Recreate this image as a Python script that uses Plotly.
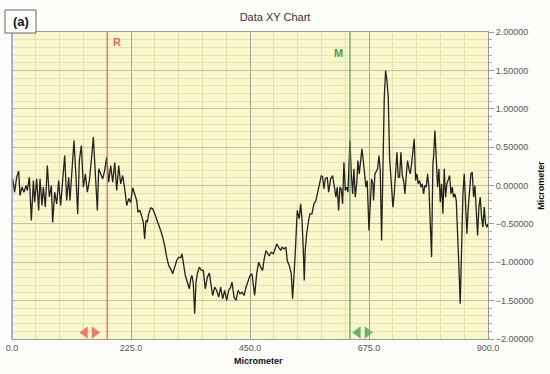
import plotly.graph_objects as go

# ---- data ----
x_um = [1.3, 5.0, 8.8, 12.6, 15.1, 18.9, 22.7, 26.5, 29.0, 32.8, 36.6, 40.4, 42.9, 46.7, 50.4, 53.0, 56.7, 59.2, 63.0, 66.8,
        70.6, 74.4, 76.9, 80.7, 84.5, 88.2, 92.0, 95.8, 99.6, 103.4, 107.2, 109.6, 113.4, 117.2, 121.0, 124.2, 127.3, 131.1, 134.9, 138.7,
        142.5, 146.3, 150.0, 153.8, 157.6, 161.4, 163.9, 167.7, 171.5, 175.2, 179.0, 182.8, 186.6, 190.4, 194.2, 198.0, 201.7, 205.5, 209.3, 213.1,
        216.9, 220.7, 224.4, 228.2, 231.9, 235.7, 238.2, 242.0, 245.7, 248.3, 250.8, 253.3, 255.8, 258.4, 262.2, 266.0, 269.8, 273.5, 277.3, 281.1,
        284.9, 288.7, 292.5, 296.3, 300.0, 303.8, 307.6, 311.4, 315.2, 319.0, 321.4, 323.9, 327.7, 331.5, 335.3, 337.8, 340.3, 342.8, 345.4, 347.9,
        350.4, 354.2, 358.0, 361.7, 365.5, 369.3, 373.1, 375.6, 379.4, 383.2, 387.0, 390.8, 394.5, 398.3, 402.1, 405.9, 409.7, 413.4, 416.0, 419.8,
        423.6, 427.4, 431.2, 435.0, 438.8, 442.5, 446.3, 449.9, 453.7, 456.2, 458.8, 462.6, 466.4, 470.1, 473.9, 476.4, 480.2, 484.0, 486.4, 490.2,
        494.0, 497.7, 500.4, 504.2, 508.0, 510.4, 514.2, 518.0, 520.4, 524.2, 528.0, 530.6, 533.1, 535.5, 539.3, 543.1, 545.8, 548.2, 550.6, 552.6,
        554.4, 557.1, 560.9, 563.3, 567.1, 570.9, 574.7, 578.5, 582.2, 584.8, 587.3, 589.8, 592.3, 596.1, 598.7, 602.5, 606.2, 610.0, 612.5, 615.0,
        617.6, 620.0, 622.5, 625.1, 627.6, 630.1, 632.7, 635.2, 639.0, 641.5, 644.1, 646.5, 649.0, 651.7, 654.1, 656.6, 659.2, 661.6, 664.1, 666.8,
        669.2, 671.6, 674.9, 677.4, 679.9, 682.4, 683.6, 686.2, 688.7, 691.3, 693.8, 696.3, 698.8, 701.3, 703.9, 706.4, 708.9, 711.4, 713.9, 716.4,
        720.2, 722.7, 725.3, 727.8, 730.3, 732.8, 735.3, 737.9, 740.4, 742.9, 745.4, 747.9, 750.5, 753.0, 755.5, 758.0, 760.5, 763.1, 765.6, 768.1,
        770.6, 773.2, 775.7, 778.2, 780.7, 783.2, 785.8, 788.3, 790.8, 793.3, 795.8, 797.1, 799.6, 802.1, 804.7, 807.2, 809.7, 812.2, 814.7, 817.3,
        819.8, 822.3, 824.8, 827.4, 829.9, 832.4, 834.9, 837.4, 840.0, 842.5, 845.0, 847.5, 850.1, 852.6, 855.1, 857.6, 860.1, 862.7, 865.2, 867.7,
        870.2, 872.8, 875.3, 877.8, 880.3, 882.8, 885.3, 887.9, 890.4, 892.9, 895.4, 897.9, 900.0]
height_um = [0.087, -0.087, 0.108, 0.187, -0.13, -0.02, -0.087, 0.0, -0.065, 0.108, -0.456, 0.065, -0.217, 0.087, -0.326, 0.087, -0.26, -0.02, -0.28, 0.26,
             -0.15, 0.0, -0.48, -0.087, -0.24, 0.065, -0.26, 0.02, 0.39, -0.195, 0.108, -0.195, 0.195, 0.586, 0.108, -0.37, 0.326, 0.52, -0.02, 0.15,
             -0.087, 0.065, 0.326, 0.63, 0.15, -0.326, 0.217, 0.15, 0.087, 0.195, 0.37, 0.043, 0.26, 0.043, 0.30, -0.065, 0.26, 0.02, 0.13, -0.043,
             -0.26, -0.17, -0.22, -0.03, -0.109, -0.195, -0.347, -0.326, -0.412, -0.477, -0.695, -0.456, -0.477, -0.369, -0.291, -0.304, -0.369, -0.434, -0.5, -0.586,
             -0.673, -0.782, -0.934, -1.042, -1.086, -1.151, -1.064, -0.977, -0.934, -0.942, -0.890, -1.021, -1.173, -1.26, -1.346, -1.216, -1.173, -1.281, -1.67, -1.26,
             -1.151, -1.064, -1.107, -1.107, -1.346, -1.195, -1.142, -1.26, -1.433, -1.325, -1.368, -1.455, -1.325, -1.476, -1.368, -1.498, -1.368, -1.325, -1.26, -1.455,
             -1.498, -1.368, -1.411, -1.390, -1.433, -1.325, -1.26, -1.173, -1.151, -1.281, -1.433, -1.151, -0.999, -1.064, -1.107, -0.977, -0.847, -0.890, -0.912, -0.869,
             -0.890, -0.825, -0.760, -0.804, -0.847, -0.804, -0.825, -0.804, -0.977, -1.042, -1.151, -1.476, -1.238, -0.890, -0.326, -0.434, -0.239, -0.434, -0.804, -1.238,
             -0.847, -0.629, -0.456, -0.369, -0.369, -0.239, -0.195, -0.065, 0.022, 0.130, 0.108, -0.043, 0.087, 0.108, -0.087, 0.087, 0.130, -0.087, -0.152, -0.022,
             -0.326, -0.022, -0.043, -0.239, 0.304, -0.065, -0.022, -0.087, 0.586, 0.152, -0.109, 0.217, -0.152, 0.022, 0.326, 0.152, 0.304, 0.478, 0.326, 0.152,
             -0.022, 0.065, -0.586, -0.239, 0.087, 0.022, -0.195, 0.152, 0.195, 0.217, 0.391, 0.195, -0.717, 0.326, 1.151, 1.498, 1.368, 1.151, 0.369, 0.108,
             -0.282, -0.109, 0.195, 0.434, 0.108, 0.108, 0.434, 0.130, 0.065, -0.109, 0.130, 0.326, 0.217, 0.152, 0.282, 0.412, 0.608, 0.065, 0.152, 0.022,
             0.065, -0.022, 0.022, -0.109, 0.0, -0.022, 0.152, -0.022, -0.543, -0.934, 0.282, 0.369, 0.717, 0.326, -0.022, 0.217, -0.217, 0.022, -0.369, 0.217,
             -0.152, 0.022, 0.065, 0.130, -0.109, -0.022, -0.152, -0.109, -0.195, -0.543, -1.064, -1.542, -0.804, -0.109, 0.152, -0.195, -0.629, -0.282, -0.109, 0.152,
             0.174, -0.152, 0.0, -0.326, -0.651, -0.282, -0.152, -0.412, -0.543, -0.282, -0.5, -0.543, -0.5]

x_ticks = [0, 225, 450, 675, 900]
y_ticks = [-2.0, -1.5, -1.0, -0.5, 0.0, 0.5, 1.0, 1.5, 2.0]
cursor_names = ["R", "M"]
cursor_x = [180, 639]
cursor_label_x = [181, 618]
cursor_label_y = [1.87, 1.73]
handle_x = [147, 663]
handle_y = -1.915

FONT = "Liberation Sans, Arial, sans-serif"
red = "#e0645a"
green = "#4f9a4f"
handle_red = "#ef7a6c"
handle_green = "#6cb26c"

fig = go.Figure()
fig.add_trace(go.Scatter(x=x_um, y=height_um, mode="lines",
                         line=dict(color="#222222", width=1.3), showlegend=False, hoverinfo="skip"))

# cursor lines
for cx, col in zip(cursor_x, [red, green]):
    fig.add_shape(type="line", xref="x", yref="paper", x0=cx, x1=cx, y0=0, y1=1,
                  line=dict(color=col, width=1.2))

# cursor handles (double arrows)
for hx, col in zip(handle_x, [handle_red, handle_green]):
    fig.add_trace(go.Scatter(x=[hx - 9, hx + 9], y=[handle_y, handle_y], mode="markers",
                             marker=dict(symbol=["triangle-left", "triangle-right"], size=11, color=col),
                             showlegend=False, hoverinfo="skip"))

fig.add_annotation(x=cursor_label_x[0], y=cursor_label_y[0], xref="x", yref="y", text="<b>R</b>", showarrow=False,
                   font=dict(family=FONT, size=11, color=red), xanchor="left", yanchor="middle", xshift=3)
fig.add_annotation(x=cursor_label_x[1], y=cursor_label_y[1], xref="x", yref="y", text="<b>M</b>", showarrow=False,
                   font=dict(family=FONT, size=11, color=green), xanchor="center", yanchor="middle")

# left edge line (bluish)
fig.add_shape(type="line", xref="paper", yref="paper", x0=0, x1=0, y0=0, y1=1,
              line=dict(color="#8c96d8", width=1.5))

# (a) label box
fig.add_shape(type="rect", xref="paper", yref="paper", x0=-0.0147, x1=0.0504, y0=0.9967, y1=1.0717,
              line=dict(color="#666666", width=1), fillcolor="white")
fig.add_annotation(x=0.018, y=1.034, xref="paper", yref="paper", text="<b>(a)</b>", showarrow=False,
                   xanchor="center", yanchor="middle",
                   font=dict(family=FONT, size=13, color="#111111"))

# axis titles
fig.add_annotation(x=0.517, y=-0.048, xref="paper", yref="paper", text="<b>Micrometer</b>", showarrow=False,
                   xanchor="center", yanchor="top",
                   font=dict(family=FONT, size=9, color="#111111"))
fig.add_annotation(x=1.11, y=0.5, xref="paper", yref="paper", text="<b>Micrometer</b>", showarrow=False,
                   xanchor="center", yanchor="middle", textangle=-90,
                   font=dict(family=FONT, size=9, color="#111111"))

fig.update_layout(
    width=550, height=374,
    margin=dict(l=12, r=62, t=32, b=35, autoexpand=False),
    paper_bgcolor="#fdfdfa",
    plot_bgcolor="#f9f8cc",
    title=dict(text="Data XY Chart", x=0.5, xanchor="center", y=0.955, yanchor="middle",
               font=dict(family=FONT, size=11, color="#333333")),
    font=dict(family=FONT),
)
fig.update_xaxes(range=[0, 900], tickvals=x_ticks, ticktext=[f"{v:.1f}" for v in x_ticks],
                 showgrid=True, gridcolor="#a3a394", gridwidth=1, automargin=False,
                 minor=dict(dtick=45, tick0=0, showgrid=True, gridcolor="#e2dfae", gridwidth=1),
                 showline=True, linecolor="#999999", linewidth=1, zeroline=False, mirror=True,
                 ticks="", tickfont=dict(family=FONT, size=9, color="#555555"))
fig.update_yaxes(range=[-2, 2], side="right", tickvals=y_ticks, tickformat=".5f", automargin=False,
                 showgrid=True, gridcolor="#c4c3a0", gridwidth=1,
                 minor=dict(dtick=0.1, tick0=0, showgrid=True, gridcolor="#e6e3b6", gridwidth=1,
                            ticks="outside", ticklen=3, tickcolor="#aaaaaa"),
                 showline=True, linecolor="#999999", linewidth=1, zeroline=False,
                 ticks="outside", ticklen=5, tickcolor="#999999",
                 tickfont=dict(family=FONT, size=9, color="#555555"))

fig.write_html("out.html", config={"displayModeBar": False},
               post_script="document.body.style.margin='0px';")
